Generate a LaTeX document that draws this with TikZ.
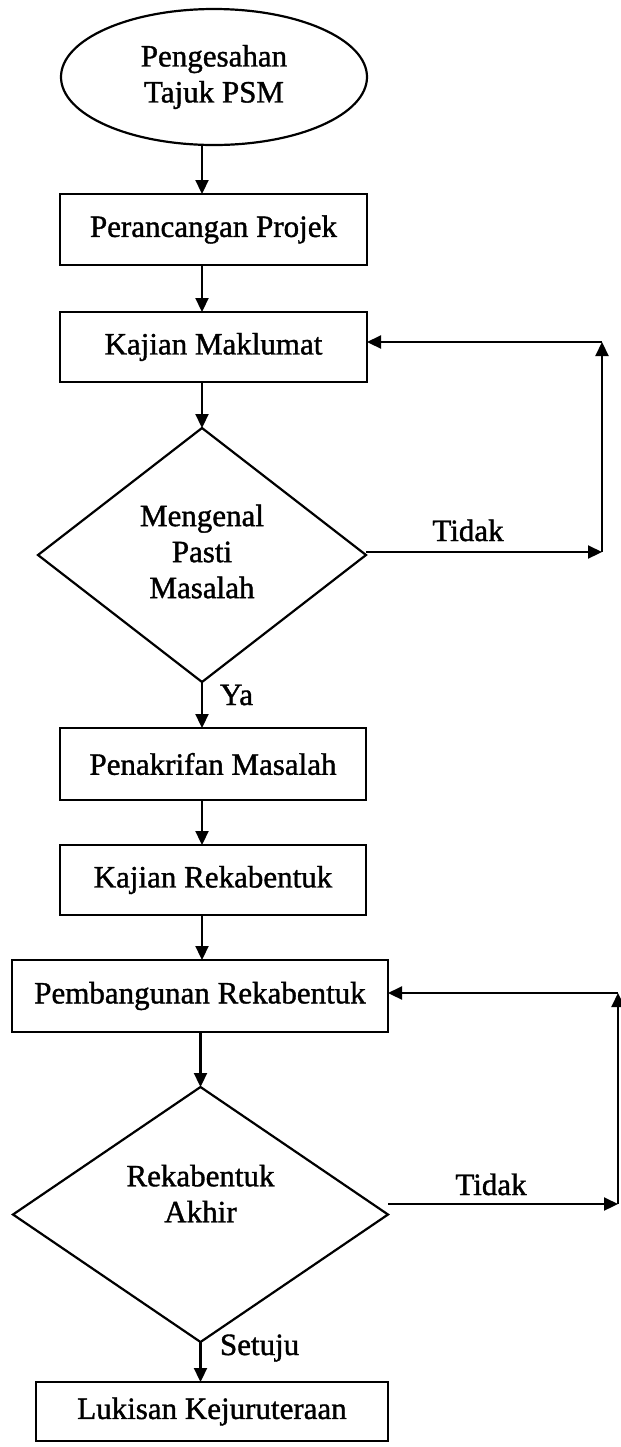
\documentclass[tikz,border=0pt]{standalone}
\usepackage{fontspec}
\setmainfont{Liberation Serif}[FakeBold=1.2]
\usetikzlibrary{arrows.meta,shapes.geometric}
\begin{document}
\begin{tikzpicture}[x=0.5pt,y=-0.5pt,
  every node/.style={font=\fontsize{15.5}{18}\selectfont, inner sep=0pt, outer sep=0pt},
  procbox/.style={draw, line width=1.1pt, rectangle, align=center},
  startell/.style={draw, line width=1.1pt, ellipse, align=center},
  decide/.style={draw, line width=1.1pt, diamond},
  flow/.style={line width=1.1pt, -{Triangle[length=7pt,width=6.5pt]}},
  lbl/.style={anchor=base}
]
\useasboundingbox (0,0) rectangle (621,1447);
\fill[white] (0,0) rectangle (621,1447);

\coordinate (col) at (202,0);

\node[startell, minimum width=153pt, minimum height=68pt] (e) at (214,77) {Pengesahan\\Tajuk PSM};
\node[procbox, minimum width=153.5pt, minimum height=35.5pt] (b1) at (213.5,229.5) {Perancangan Projek};
\node[procbox, minimum width=153.5pt, minimum height=35pt] (b2) at (213.5,347) {Kajian Maklumat};
\node[decide, minimum width=164pt, minimum height=127pt] (d1) at (202,555) {};
\node[align=center] (d1t) at (202,551.5) {Mengenal\\Pasti\\Masalah};
\node[procbox, minimum width=153pt, minimum height=36pt] (b3) at (213,764) {Penakrifan Masalah};
\node[procbox, minimum width=153pt, minimum height=35pt] (b4) at (213,880) {Kajian Rekabentuk};
\node[procbox, minimum width=188pt, minimum height=36pt] (b5) at (200,996) {Pembangunan Rekabentuk};
\node[decide, minimum width=187.5pt, minimum height=127.5pt] (d2) at (200.5,1214.5) {};
\node[align=center] (d2t) at (200.5,1193.5) {Rekabentuk\\Akhir};
\node[procbox, minimum width=176pt, minimum height=29.5pt] (b6) at (212,1411.5) {Lukisan Kejuruteraan};

% main flow
\draw[flow] (e.south -| col) -- (b1.north -| col);
\draw[flow] (b1.south -| col) -- (b2.north -| col);
\draw[flow] (b2.south -| col) -- (d1.north);
\draw[flow] (d1.south) -- (b3.north -| d1.south);
\draw[flow] (b3.south -| col) -- (b4.north -| col);
\draw[flow] (b4.south -| col) -- (b5.north -| col);
\draw[flow] (b5.south -| d2.north) -- (d2.north);
\draw[flow] (d2.south) -- (b6.north -| d2.south);

% loop 1
\coordinate (s1) at ([yshift=1.5pt]d1.east);
\coordinate (r1t) at (602,342);
\coordinate (r1b) at (s1 -| r1t);
\draw[flow] (s1) -- (r1b);
\draw[flow] (r1b) -- (r1t);
\draw[flow] (r1t) -- (b2.east |- r1t);
\node[lbl] (t1) at (468,541) {Tidak};
\node[anchor=base west] (ya) at (220,705) {Ya};

% loop 2
\coordinate (s2) at ([yshift=5.25pt]d2.east);
\coordinate (r2t) at (618,993);
\coordinate (r2b) at (s2 -| r2t);
\draw[flow] (s2) -- (r2b);
\draw[flow] (r2b) -- (r2t);
\draw[flow] (r2t) -- (b5.east |- r2t);
\node[lbl] (t2) at (491,1195) {Tidak};
\node[anchor=base west] (st) at (220,1355) {Setuju};
\end{tikzpicture}
\end{document}
